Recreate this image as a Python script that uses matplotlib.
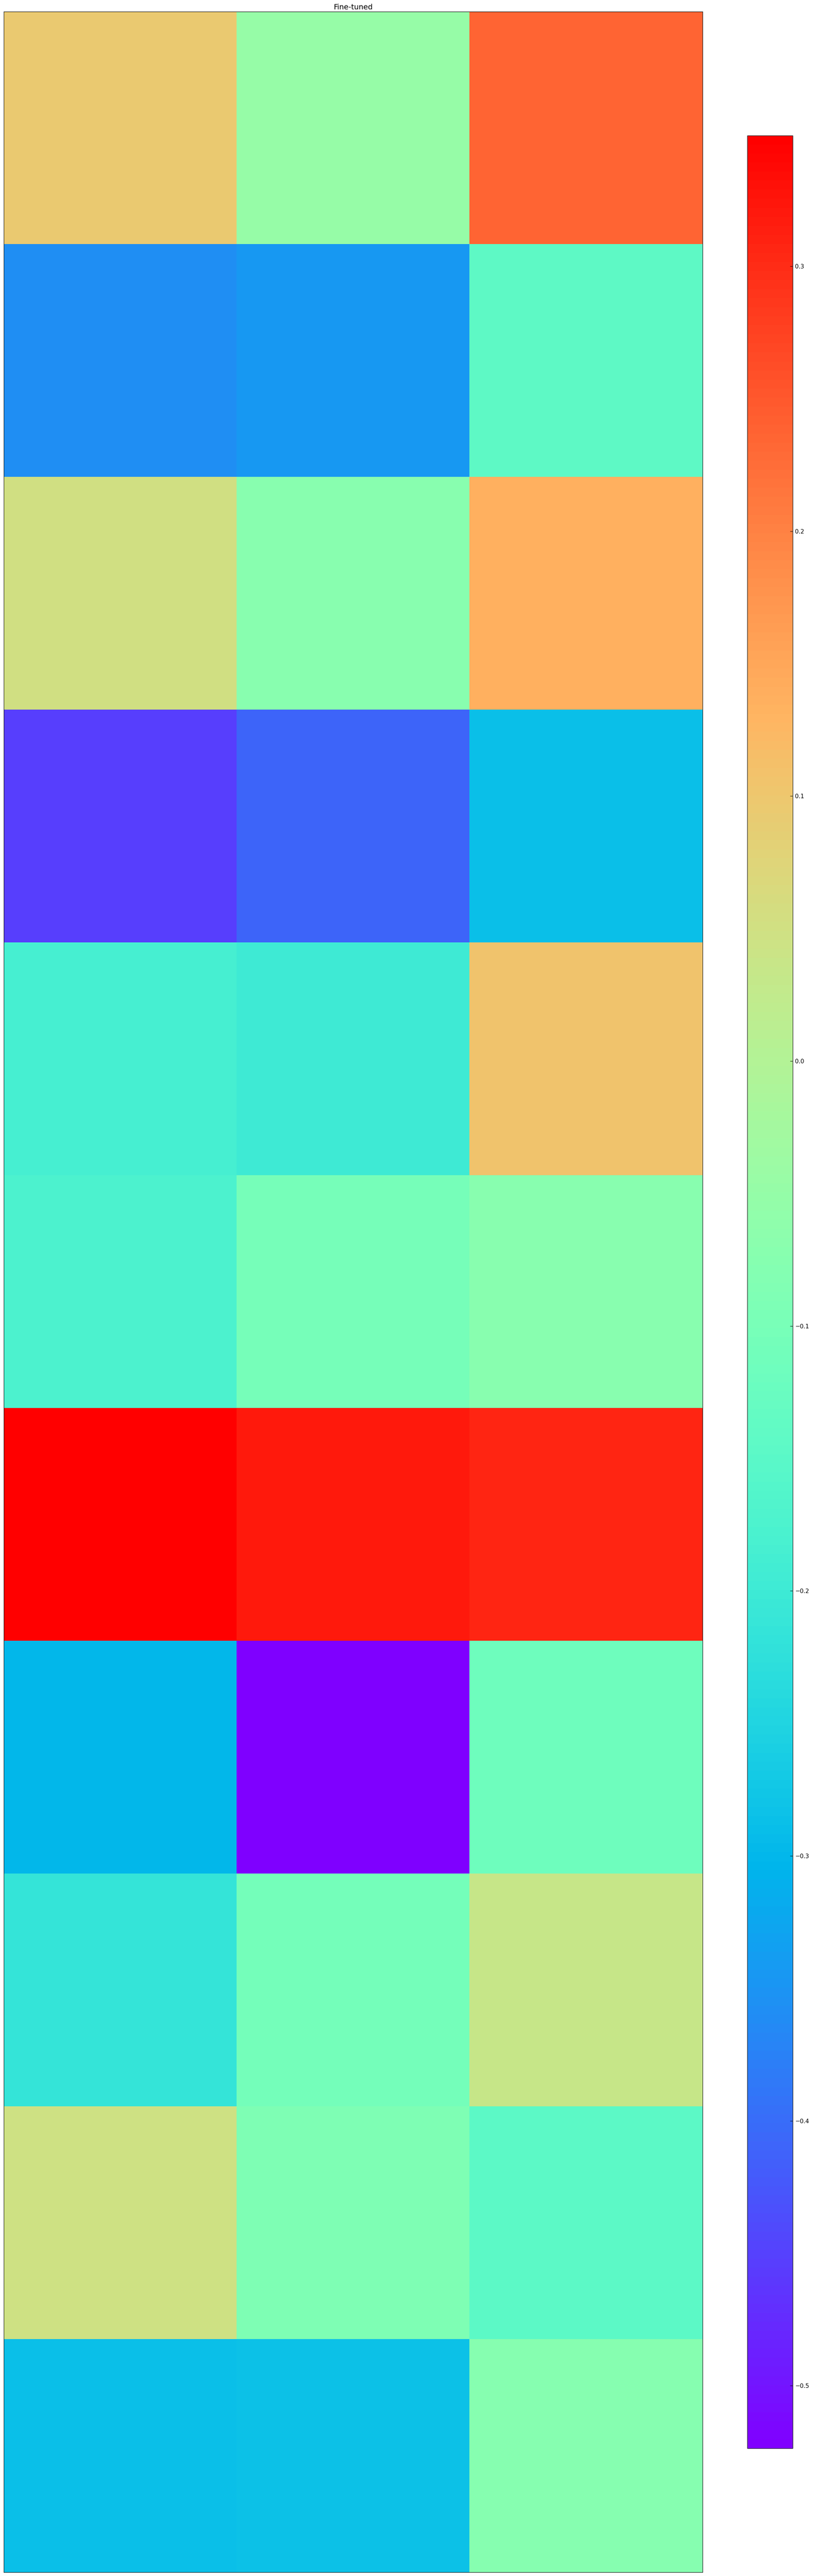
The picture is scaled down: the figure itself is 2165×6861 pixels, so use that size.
import numpy as np
import matplotlib
matplotlib.use("Agg")
import matplotlib.pyplot as plt

# Heatmap values (11 rows x 3 columns)
col_a = [0.0962, -0.3578, 0.0525, -0.4538, -0.1832, -0.1744, 0.3493, -0.3010, -0.2155, 0.0464, -0.2870]
col_b = [-0.0470, -0.3447, -0.0732, -0.4101, -0.1963, -0.1029, 0.3214, -0.5236, -0.1072, -0.0872, -0.2845]
col_c = [0.2358, -0.1421, 0.1346, -0.2853, 0.1049, -0.0714, 0.3074, -0.1177, 0.0324, -0.1482, -0.0740]
title = "Fine-tuned"

data = np.array([col_a, col_b, col_c]).T

W, H, DPI = 2165, 6861, 100
fig = plt.figure(figsize=(W / DPI, H / DPI), dpi=DPI)

ax = fig.add_axes([10 / W, (H - 6851) / H, 1861 / W, 6820 / H])
im = ax.imshow(data, cmap="rainbow", aspect="auto", interpolation="nearest")
ax.set_xticks([])
ax.set_yticks([])
ax.set_title(title, fontsize=14.2, pad=4.3)

cax = fig.add_axes([1990 / W, (H - 6521) / H, 121 / W, 6160 / H])
cb = fig.colorbar(im, cax=cax)
cb.ax.tick_params(direction="in", length=5.0, width=0.8, labelsize=11.2, pad=4.3)

fig.savefig("out.png", dpi=DPI)
